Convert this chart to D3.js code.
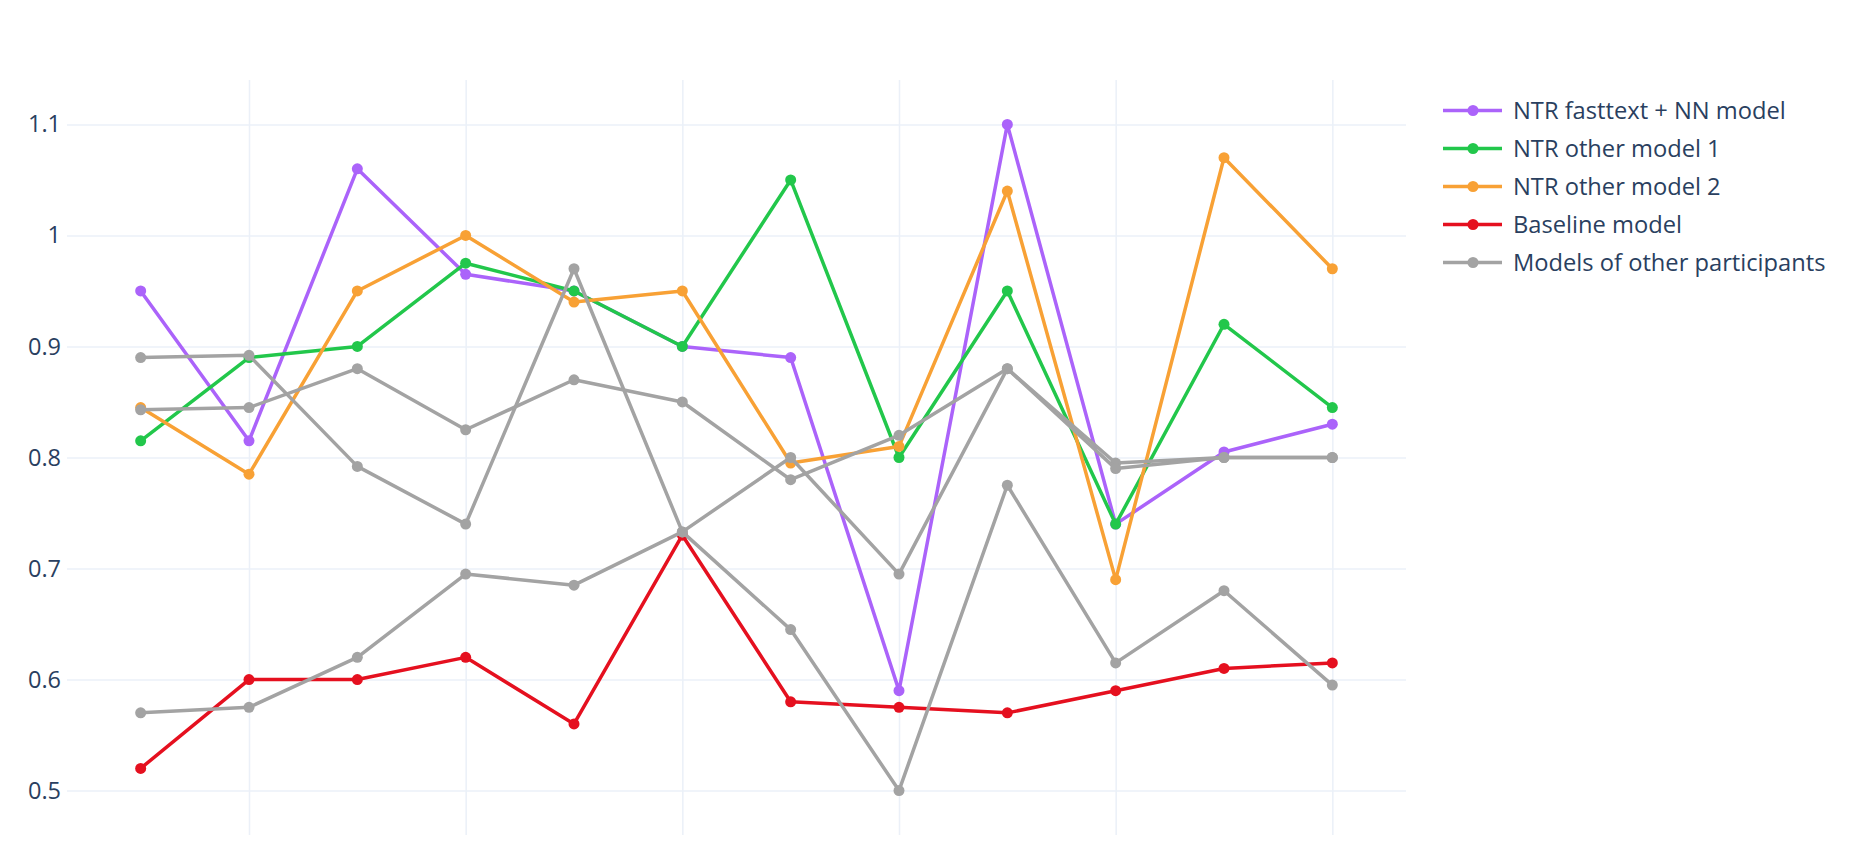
<!DOCTYPE html>
<html>
<head>
<meta charset="utf-8">
<script src="https://cdn.jsdelivr.net/npm/d3@7"></script>
<style>
 body{margin:0;background:#fff;}
 .ytick text{font-family:"Open Sans",verdana,arial,sans-serif;font-size:23.5px;fill:#2a3f5f;}
 .legend text{font-family:"Open Sans",verdana,arial,sans-serif;font-size:23.7px;fill:#2a3f5f;}
</style>
</head>
<body>
<div id="chartDiv"></div>
<script>
// Data
var runs = [1,2,3,4,5,6,7,8,9,10,11,12];
var yTicks = [0.5,0.6,0.7,0.8,0.9,1,1.1];
var xGrid = [2,4,6,8,10,12];

var fasttextNN = [0.95,0.815,1.06,0.965,0.95,0.9,0.89,0.59,1.10,0.74,0.805,0.83];
var otherModel1 = [0.815,0.89,0.9,0.975,0.95,0.9,1.05,0.8,0.95,0.74,0.92,0.845];
var otherModel2 = [0.845,0.785,0.95,1.0,0.94,0.95,0.795,0.81,1.04,0.69,1.07,0.97];
var baseline = [0.52,0.6,0.6,0.62,0.56,0.73,0.58,0.575,0.57,0.59,0.61,0.615];
var participantA = [0.89,0.892,0.792,0.74,0.97,0.733,0.645,0.5,0.775,0.615,0.68,0.595];
var participantB = [0.843,0.845,0.88,0.825,0.87,0.85,0.78,0.82,0.88,0.795,0.8,0.8];
var participantC = [0.57,0.575,0.62,0.695,0.685,0.733,0.8,0.695,0.88,0.79,0.8,0.8];

var series = [
 {name:"NTR fasttext + NN model", values:fasttextNN, color:"#ab63fa", legend:true},
 {name:"NTR other model 1", values:otherModel1, color:"#22c74b", legend:true},
 {name:"NTR other model 2", values:otherModel2, color:"#f8a135", legend:true},
 {name:"Baseline model", values:baseline, color:"#e5101f", legend:true},
 {name:"Models of other participants", values:participantA, color:"#a3a3a3", legend:true},
 {name:"Models of other participants", values:participantB, color:"#a3a3a3", legend:false},
 {name:"Models of other participants", values:participantC, color:"#a3a3a3", legend:false}
];

var W = 1850, H = 842;
var margin = {top: 80, right: 444, bottom: 7, left: 67};
var width = W - margin.left - margin.right;
var height = H - margin.top - margin.bottom;

var xScale = d3.scaleLinear().domain([0.32,12.68]).range([0,width]);
var yScale = d3.scaleLinear().domain([0.46,1.14]).range([height,0]);

var svg = d3.select("#chartDiv").append("svg")
 .attr("width", W)
 .attr("height", H)
 .append("g")
 .attr("transform", "translate(" + margin.left + "," + margin.top + ")");

// grid lines
svg.append("g")					//vertical grid
 .call(d3.axisBottom(xScale).tickValues(xGrid).tickSize(height).tickFormat(""))
 .call(g => g.select(".domain").remove())
 .selectAll("line").attr("stroke","#ebf0f8").attr("stroke-width",1.5);

var yAxis = svg.append("g")			//horizontal grid + labels
 .attr("class","ytick")
 .call(d3.axisLeft(yScale).tickValues(yTicks).tickSize(-width).tickPadding(6).tickFormat(d3.format("")));
yAxis.select(".domain").remove();
yAxis.selectAll("line").attr("stroke","#ebf0f8").attr("stroke-width",1.5);

var line = d3.line()
 .x(function(d,i){ return xScale(runs[i]); })
 .y(function(d){ return yScale(d); });

series.forEach(function(s){
 svg.append("path")
  .datum(s.values)
  .attr("fill","none")
  .attr("stroke", s.color)
  .attr("stroke-width", 3.5)
  .attr("stroke-linejoin","round")
  .attr("d", line);
 svg.append("g").selectAll("circle")
  .data(s.values)
  .enter().append("circle")
  .attr("cx", function(d,i){ return xScale(runs[i]); })
  .attr("cy", function(d){ return yScale(d); })
  .attr("r", 5.5)
  .attr("fill", s.color);
});

// legend
var legend = d3.select("svg").append("g")
 .attr("class","legend")
 .attr("transform","translate(1443,110.5)");
var items = legend.selectAll("g")
 .data(series.filter(function(s){ return s.legend; }))
 .enter().append("g")
 .attr("transform", function(d,i){ return "translate(0," + (i*38) + ")"; });
items.append("line")
 .attr("x1",0).attr("x2",59)
 .attr("stroke", function(d){ return d.color; })
 .attr("stroke-width",3.5);
items.append("circle")
 .attr("cx",30).attr("r",5.5)
 .attr("fill", function(d){ return d.color; });
items.append("text")
 .attr("x",70)
 .attr("dy","0.35em")
 .text(function(d){ return d.name; });
</script>
</body>
</html>
